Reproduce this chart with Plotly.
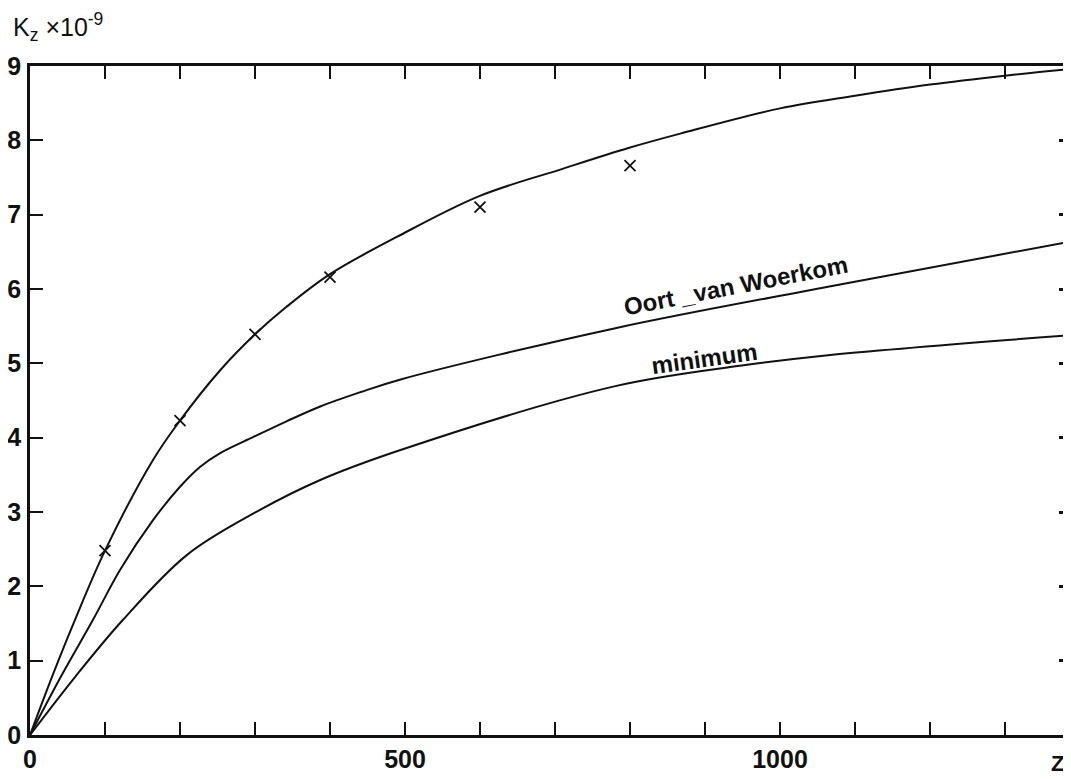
import plotly.graph_objects as go

# ---- data ----
top_x = [0, 30, 60, 100, 164, 200, 253, 300, 342, 400, 489, 599, 711, 799, 867, 1000, 1100, 1200, 1300, 1388]
top_y = [0, 0.8, 1.55, 2.48, 3.70, 4.23, 4.90, 5.39, 5.76, 6.2, 6.70, 7.25, 7.62, 7.90, 8.09, 8.43, 8.60, 8.75, 8.87, 8.96]

oort_x = [0, 42, 84, 120, 164, 200, 227, 253, 298, 342, 387, 440, 493, 779, 1064, 1388]
oort_y = [0, 0.8, 1.55, 2.22, 2.89, 3.34, 3.61, 3.79, 4.01, 4.22, 4.42, 4.61, 4.78, 5.47, 6.03, 6.64]

min_x = [0, 60, 124, 209, 298, 387, 493, 779, 949, 1064, 1388]
min_y = [0, 0.78, 1.55, 2.42, 2.98, 3.43, 3.83, 4.69, 4.97, 5.11, 5.38]

obs_x = [100, 200, 300, 400, 600, 800]
obs_y = [2.48, 4.23, 5.39, 6.16, 7.10, 7.66]

x_label_ticks = [0, 500, 1000]
x_label_text = ["0", "500", "1000"]
x_minor_step = 100
y_ticks = list(range(0, 10))
y_ticklabels = [str(v) for v in y_ticks]
y_right_ticks = list(range(1, 9))

X_RANGE = [0, 1388]
Y_RANGE = [0, 9]

FONT = "Liberation Sans"
INK = "#111111"

fig = go.Figure()
line_style = dict(color=INK, width=2, shape="spline", smoothing=1.0)
fig.add_trace(go.Scatter(x=top_x, y=top_y, mode="lines", line=line_style, hoverinfo="skip"))
fig.add_trace(go.Scatter(x=oort_x, y=oort_y, mode="lines", line=line_style, hoverinfo="skip"))
fig.add_trace(go.Scatter(x=min_x, y=min_y, mode="lines", line=line_style, hoverinfo="skip"))
fig.add_trace(go.Scatter(x=obs_x, y=obs_y, mode="markers",
                         marker=dict(symbol="x-thin", size=11, line=dict(color=INK, width=1.8)),
                         hoverinfo="skip"))
# transparent copy on the right-hand axis so its ticks are drawn
fig.add_trace(go.Scatter(x=min_x, y=min_y, yaxis="y2", mode="lines",
                         line=dict(color="rgba(0,0,0,0)", width=1), hoverinfo="skip"))

tick_font = dict(family=FONT, size=25, color=INK, weight="bold")
# the page body has an 8px margin, so the figure is sized/placed to compensate
fig.update_layout(
    width=1063, height=771,
    margin=dict(l=22, r=0, t=58, b=44),
    plot_bgcolor="white", paper_bgcolor="white",
    showlegend=False,
    xaxis=dict(range=X_RANGE, tickvals=x_label_ticks, ticktext=x_label_text,
               ticks="inside", ticklen=13, tickwidth=2, tickcolor=INK,
               minor=dict(tick0=0, dtick=x_minor_step, ticks="inside", ticklen=13,
                          tickwidth=2, tickcolor=INK, showgrid=False),
               showline=True, linewidth=2.5, linecolor=INK, mirror="allticks",
               showgrid=False, zeroline=False, automargin=False, ticklabelstandoff=0,
               tickfont=tick_font),
    yaxis=dict(range=Y_RANGE, tickvals=y_ticks, ticktext=y_ticklabels,
               ticks="inside", ticklen=13, tickwidth=2, tickcolor=INK,
               showline=True, linewidth=2.5, linecolor=INK, mirror=False,
               showgrid=False, zeroline=False, ticklabelstandoff=1, automargin=False,
               tickfont=tick_font),
    yaxis2=dict(range=Y_RANGE, overlaying="y", side="right", anchor="x",
                tickvals=y_right_ticks, ticks="inside", ticklen=12, tickwidth=3,
                tickcolor=INK, showticklabels=False, showline=False,
                showgrid=False, zeroline=False, automargin=False),
)

fig.add_annotation(text="K<sub>z</sub> ×10<sup>-9</sup>", xref="paper", yref="paper",
                   x=-0.018, y=1.058, xanchor="left", yanchor="middle", showarrow=False,
                   font=dict(family=FONT, size=25, color=INK))
fig.add_annotation(text="Z", xref="paper", yref="paper", x=0.9875, y=-0.042,
                   xanchor="center", yanchor="middle", showarrow=False,
                   font=dict(family=FONT, size=22, color=INK, weight="bold"))
ann_font = dict(family=FONT, size=24, color=INK, weight="bold")
fig.add_annotation(text="Oort _van Woerkom", x=941, y=6.05, xref="x", yref="y",
                   textangle=-11, showarrow=False, font=ann_font)
fig.add_annotation(text="minimum", x=899, y=5.07, xref="x", yref="y",
                   textangle=-8, showarrow=False, font=ann_font)

fig.write_html("out.html")
